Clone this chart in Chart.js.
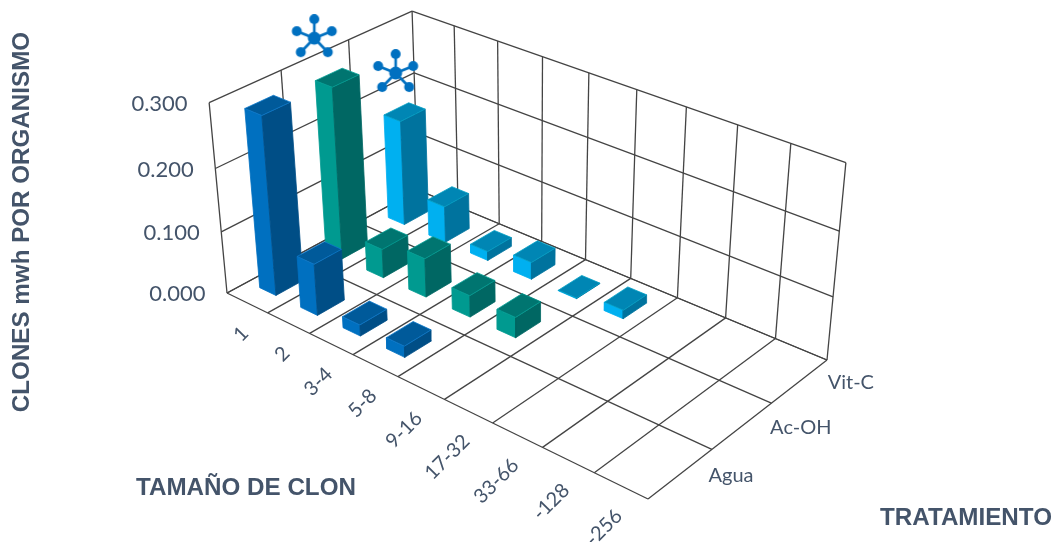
<!DOCTYPE html>
<html>
<head>
<meta charset="utf-8">
<title>Clones mwh por organismo</title>
<script src="https://cdn.jsdelivr.net/npm/chart.js@4"></script>
<style>
    html, body { margin: 0; padding: 0; background: #fff; }
    canvas { display: block; }
</style>
</head>
<body>
<canvas id="myChart" width="1054" height="542"></canvas>
<script>
const categories = ['1', '2', '3-4', '5-8', '9-16', '17-32', '33-66', '-128', '-256'];
const seriesNames = ['Agua', 'Ac-OH', 'Vit-C'];
const valueTicks = [0, 0.1, 0.2, 0.3];

const aguaValues = [0.284, 0.083, 0.018, 0.018, null, null, null, null, null];
const acOhValues = [0.277, 0.047, 0.063, 0.035, 0.033, null, null, null, null];
const vitCValues = [0.173, 0.06, 0.015, 0.028, 0.001, 0.014, null, null, null];
const seriesValues = [aguaValues, acOhValues, vitCValues];

// bars carrying the significance icon: [category index, series index]
const markedBars = [[0, 1], [0, 2]];

const faceColors = [
    { front: '#0070C0', side: '#004E86', top: '#005A9A', edge: '#0B78CC' },
    { front: '#009A90', side: '#006763', top: '#007570', edge: '#00A095' },
    { front: '#00B0F0', side: '#00739E', top: '#0086B4', edge: '#00A0C4' }
];
const gridColor = '#444444';
const textColor = '#44546A';
const barFrom = 0.3, barTo = 0.7;

// Perspective box: floor corners and three top corners of the walls, in canvas pixels
const floorCorners = [[227, 293], [648, 499], [827, 360], [418, 190]];
const topCorners = [
    { s: 0, t: 0, x: 208, y: 102 },
    { s: 0, t: 1, x: 413, y: 13 },
    { s: 1, t: 1, x: 846, y: 161 }
];

function solve3(m, b) {
    const det = (a) => a[0][0] * (a[1][1] * a[2][2] - a[1][2] * a[2][1])
        - a[0][1] * (a[1][0] * a[2][2] - a[1][2] * a[2][0])
        + a[0][2] * (a[1][0] * a[2][1] - a[1][1] * a[2][0]);
    const d = det(m);
    return [0, 1, 2].map(col => det(m.map((row, i) => row.map((v, j) => j === col ? b[i] : v))) / d);
}

function buildProjection() {
    const [[x0, y0], [x1, y1], [x2, y2], [x3, y3]] = floorCorners;
    const dx1 = x1 - x2, dx2 = x3 - x2, sx = x0 - x1 + x2 - x3;
    const dy1 = y1 - y2, dy2 = y3 - y2, sy = y0 - y1 + y2 - y3;
    const den = dx1 * dy2 - dx2 * dy1;
    const g = (sx * dy2 - dx2 * sy) / den;
    const h = (dx1 * sy - sx * dy1) / den;
    const a = x1 - x0 + g * x1, b = x3 - x0 + h * x3, c = x0;
    const d = y1 - y0 + g * y1, e = y3 - y0 + h * y3, f = y0;

    // least squares for the height column
    const rows = [], rhs = [];
    topCorners.forEach(p => {
        const w = g * p.s + h * p.t + 1;
        rows.push([1, 0, -p.x]);
        rhs.push(p.x * w - (a * p.s + b * p.t + c));
        rows.push([0, 1, -p.y]);
        rhs.push(p.y * w - (d * p.s + e * p.t + f));
    });
    const ata = [0, 1, 2].map(i => [0, 1, 2].map(j => rows.reduce((sum, r) => sum + r[i] * r[j], 0)));
    const atb = [0, 1, 2].map(i => rows.reduce((sum, r, n) => sum + r[i] * rhs[n], 0));
    const [p, q, k] = solve3(ata, atb);

    return function (s, t, r) {
        const w = g * s + h * t + k * r + 1;
        return { x: (a * s + b * t + p * r + c) / w, y: (d * s + e * t + q * r + f) / w };
    };
}

const toCanvas = buildProjection();
const maxValue = valueTicks[valueTicks.length - 1];
// u: category position, v: series position, value: data value
function project(u, v, value) {
    return toCanvas(u / categories.length, v / seriesNames.length, value / maxValue);
}

const datasets = [];

function addGridLine(from, to) {
    datasets.push({
        data: [project(...from), project(...to)],
        showLine: true, fill: false, borderColor: gridColor, borderWidth: 1.3, pointRadius: 0, clip: false
    });
}

function addFace(corners, color, edge) {
    datasets.push({
        data: [...corners, corners[0]].map(c => project(...c)),
        showLine: true, fill: 'shape', backgroundColor: color, borderColor: edge,
        borderWidth: 0.8, pointRadius: 0, clip: false
    });
}

// floor
categories.forEach((_, i) => addGridLine([i, 0, 0], [i, seriesNames.length, 0]));
addGridLine([categories.length, 0, 0], [categories.length, seriesNames.length, 0]);
seriesNames.forEach((_, j) => addGridLine([0, j, 0], [categories.length, j, 0]));
addGridLine([0, seriesNames.length, 0], [categories.length, seriesNames.length, 0]);

// side wall and back wall
valueTicks.forEach(tick => {
    addGridLine([0, 0, tick], [0, seriesNames.length, tick]);
    addGridLine([0, seriesNames.length, tick], [categories.length, seriesNames.length, tick]);
});
for (let j = 0; j <= seriesNames.length; j++) addGridLine([0, j, 0], [0, j, maxValue]);
for (let i = 1; i <= categories.length; i++) addGridLine([i, seriesNames.length, 0], [i, seriesNames.length, maxValue]);

// bars, back row first; only the top face gets the lighter rim
for (let j = seriesNames.length - 1; j >= 0; j--) {
    const colors = faceColors[j];
    seriesValues[j].forEach((value, i) => {
        if (value === null) return;
        const u0 = i + barFrom, u1 = i + barTo, v0 = j + barFrom, v1 = j + barTo;
        addFace([[u0, v0, 0], [u1, v0, 0], [u1, v0, value], [u0, v0, value]], colors.front, colors.front);
        addFace([[u1, v0, 0], [u1, v1, 0], [u1, v1, value], [u1, v0, value]], colors.side, colors.side);
        addFace([[u0, v0, value], [u1, v0, value], [u1, v1, value], [u0, v1, value]], colors.top, colors.edge);
    });
}

function makeIcon() {
    const icon = document.createElement('canvas');
    icon.width = 48;
    icon.height = 48;
    const c = icon.getContext('2d');
    const arms = [[0, -19], [-17.5, -7], [17.5, -7], [-13.5, 14], [13.5, 14]];
    c.translate(24, 24);
    c.fillStyle = c.strokeStyle = '#0070C0';
    c.lineWidth = 2.6;
    arms.forEach(([x, y]) => {
        c.beginPath();
        c.moveTo(0, 0);
        c.lineTo(x, y);
        c.stroke();
        c.beginPath();
        c.arc(x, y, 5, 0, Math.PI * 2);
        c.fill();
    });
    c.beginPath();
    c.arc(0, 0, 6.5, 0, Math.PI * 2);
    c.fill();
    return icon;
}

// icons float above their bars
const iconLift = [[-23, -39.5], [-9, -39]];
datasets.push({
    data: markedBars.map(([i, j], n) => {
        const p = project(i + 0.5, j + 0.5, seriesValues[j][i]);
        return { x: p.x + iconLift[n][0], y: p.y + iconLift[n][1] };
    }),
    showLine: false, pointStyle: makeIcon(), pointRadius: 10, clip: false
});

// Chart.js paints the first dataset last
datasets.reverse();

const labelsPlugin = {
    id: 'boxLabels',
    afterDatasetsDraw(chart) {
        const ctx = chart.ctx;
        const xs = chart.scales.x, ys = chart.scales.y;
        const at = (p) => ({ x: xs.getPixelForValue(p.x), y: ys.getPixelForValue(p.y) });
        ctx.save();
        ctx.fillStyle = textColor;

        ctx.font = '22px Lato';
        ctx.textAlign = 'right';
        ctx.textBaseline = 'middle';
        valueTicks.forEach(tick => {
            const p = at(project(0, 0, tick));
            ctx.fillText(tick.toFixed(3), p.x - 21.5, p.y + 1);
        });

        ctx.font = '20px Lato';
        categories.forEach((label, i) => {
            const p = at(project(i + 0.5, 0, 0));
            ctx.save();
            ctx.translate(p.x - 2, p.y + 27);
            ctx.rotate(-Math.PI / 4);
            ctx.fillText(label, 0, 0);
            ctx.restore();
        });

        ctx.textAlign = 'left';
        seriesNames.forEach((label, j) => {
            const p = at(project(categories.length, j + 0.5, 0));
            ctx.fillText(label, p.x + 28, p.y + 1.5);
        });

        ctx.font = 'bold 24.2px "Liberation Sans"';
        ctx.textAlign = 'left';
        ctx.fillText('TAMAÑO DE CLON', 136, 488);
        ctx.fillText('TRATAMIENTO', 880, 518.5);
        ctx.translate(22, 222);
        ctx.rotate(-Math.PI / 2);
        ctx.textAlign = 'center';
        ctx.fillText('CLONES mwh POR ORGANISMO', 0, 0);
        ctx.restore();
    }
};

const myChart = new Chart(document.getElementById('myChart').getContext('2d'), {
    type: 'scatter',
    data: { datasets: datasets },
    options: {
        responsive: false,
        animation: false,
        layout: { autoPadding: false },
        plugins: { legend: { display: false }, tooltip: { enabled: false } },
        scales: {
            x: { type: 'linear', min: 0, max: 1054, display: false },
            y: { type: 'linear', min: 0, max: 542, reverse: true, display: false }
        }
    },
    plugins: [labelsPlugin]
});
</script>
</body>
</html>
